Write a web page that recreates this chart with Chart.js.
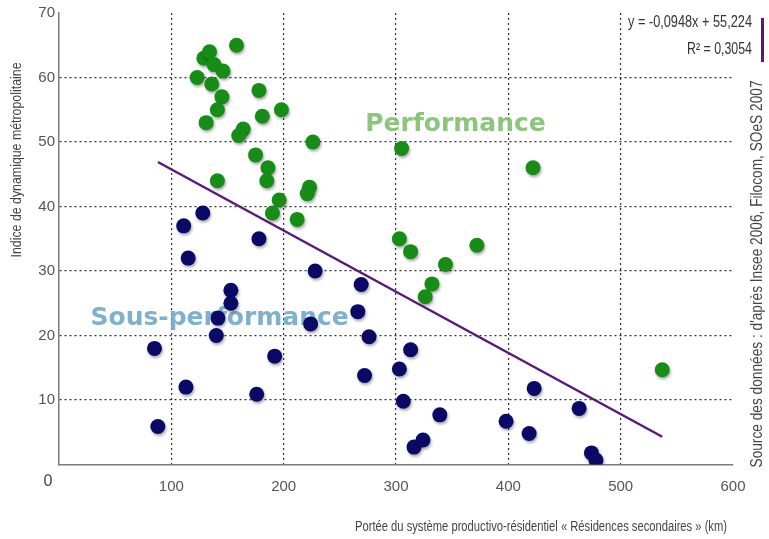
<!DOCTYPE html>
<html lang="fr">
<head>
<meta charset="utf-8">
<title>Indice de dynamique métropolitaine</title>
<script src="https://cdn.jsdelivr.net/npm/chart.js@4.4.1/dist/chart.umd.min.js"></script>
<style>
  html, body { margin: 0; padding: 0; background: #fff; }
</style>
</head>
<body>
<canvas id="chart" width="769" height="539"></canvas>
<script>
// ── Data ──────────────────────────────────────────────────────
// "Performance" (green)
const perfX = [123, 129, 134, 138, 146, 158, 136, 145, 141, 131, 164, 160, 178, 181, 198, 175, 186, 185,
               141, 196, 190, 212, 226, 223, 221, 305, 422, 303, 313, 344, 372, 332, 326, 537];
const perfY = [60, 63, 64, 62, 61, 65, 59, 57, 55, 53, 52, 51, 58, 54, 55, 48, 46, 44,
               44, 41, 39, 38, 50, 43, 42, 49, 46, 35, 33, 31, 34, 28, 26, 14.7];

// "Sous-performance" (navy)
const sousX = [111, 128, 115, 178, 228, 153, 153, 141.5, 140, 85, 192, 113, 176, 88, 224, 269,
               266, 276, 272, 313, 303, 306.5, 339, 316, 324, 398, 423, 418.5, 463, 474, 478];
const sousY = [37, 39, 32, 35, 30, 27, 25, 22.7, 20, 18, 16.8, 12, 10.9, 5.9, 21.8, 27.9,
               23.7, 19.8, 13.8, 17.8, 14.8, 9.8, 7.7, 2.7, 3.8, 6.7, 11.8, 4.8, 8.7, 1.8, 0.7];

// trend line end points (y = -0,0948x + 55,224)
const trendX = [88, 537];
const trendY = [46.9, 4.3];

const xTicks = [0, 100, 200, 300, 400, 500, 600];
const yTicks = [0, 10, 20, 30, 40, 50, 60, 70];

const equationText = ["y = -0,0948x + 55,224", "R\u00B2 = 0,3054"];
const xTitle = "Portée du système productivo-résidentiel « Résidences secondaires » (km)";
const yTitle = "Indice de dynamique métropolitaine";
const sourceText = "Source des données : d'après Insee 2006, Filocom, SOeS 2007";

// ── Styles ────────────────────────────────────────────────────
const narrow = '"Liberation Sans Narrow", "Liberation Sans", sans-serif';
const green = "#178c17";
const navy = "#0a0a66";
const purple = "#5a1878";
const gridColor = "#333";

function toPoints(xs, ys) {
    return xs.map((v, i) => ({ x: v, y: ys[i] }));
}

// draw text squeezed horizontally to a given width (condensed look)
function fitText(ctx, text, x, y, size, width, align, angle) {
    ctx.save();
    ctx.font = size + "px " + narrow;
    const w = ctx.measureText(text).width;
    const k = Math.min(1, width / w);
    ctx.translate(x, y);
    if (angle) ctx.rotate(angle);
    ctx.scale(k, 1);
    ctx.textAlign = align;
    ctx.textBaseline = "middle";
    ctx.fillText(text, 0, 0);
    ctx.restore();
}

// ── Plugins ───────────────────────────────────────────────────
const pointShadow = {
    id: "pointShadow",
    beforeDatasetDraw(chart, args) {
        if (args.meta.type !== "scatter") return;
        const ctx = chart.ctx;
        ctx.save();
        ctx.shadowColor = "rgba(0,0,0,0.35)";
        ctx.shadowOffsetX = 1;
        ctx.shadowOffsetY = 2;
        ctx.shadowBlur = 3;
    },
    afterDatasetDraw(chart, args) {
        if (args.meta.type !== "scatter") return;
        chart.ctx.restore();
    }
};

const annotations = {
    id: "annotations",
    beforeDatasetsDraw(chart) {
        const { ctx, scales: { x, y } } = chart;
        ctx.save();
        ctx.font = 'bold 25px "DejaVu Sans", sans-serif';
        ctx.textAlign = "center";
        ctx.textBaseline = "middle";
        ctx.fillStyle = "rgba(128,192,110,0.9)";
        ctx.fillText("Performance", x.getPixelForValue(353), y.getPixelForValue(52.7));
        ctx.fillStyle = "rgba(112,168,200,0.9)";
        ctx.fillText("Sous-performance", x.getPixelForValue(143), y.getPixelForValue(22.7));
        ctx.restore();
    },
    afterDraw(chart) {
        const { ctx, chartArea } = chart;
        ctx.save();
        ctx.fillStyle = "#444";

        // origin label
        fitText(ctx, "0", chartArea.left - 11, chartArea.bottom + 17, 16, 20, "center");

        // axis titles
        fitText(ctx, xTitle, 727, 527, 14, 372, "right");
        fitText(ctx, yTitle, 17, 160, 15, 195, "center", -Math.PI / 2);

        // source, right side
        fitText(ctx, sourceText, 757, 274, 17, 387, "center", -Math.PI / 2);

        // regression legend
        ctx.fillStyle = "#333";
        fitText(ctx, equationText[0], 752, 23, 16, 124, "right");
        fitText(ctx, equationText[1], 752, 50, 16, 65, "right");
        ctx.fillStyle = purple;
        ctx.fillRect(761, 18, 3, 44);
        ctx.restore();
    }
};

// ── Chart ─────────────────────────────────────────────────────
new Chart(document.getElementById("chart"), {
    data: {
        datasets: [
            {
                type: "line",
                label: "Tendance",
                data: toPoints(trendX, trendY),
                borderColor: purple,
                borderWidth: 2.5,
                pointRadius: 0,
                fill: false,
                order: 0
            },
            {
                type: "scatter",
                label: "Performance",
                data: toPoints(perfX, perfY),
                backgroundColor: green,
                borderWidth: 0,
                pointRadius: 7.5,
                order: 2
            },
            {
                type: "scatter",
                label: "Sous-performance",
                data: toPoints(sousX, sousY),
                backgroundColor: navy,
                borderWidth: 0,
                pointRadius: 7.5,
                order: 1
            }
        ]
    },
    options: {
        responsive: false,
        devicePixelRatio: 1,
        animation: false,
        layout: { padding: { left: 0, right: 36, top: 9, bottom: 0 } },
        plugins: {
            legend: { display: false },
            tooltip: { enabled: false }
        },
        scales: {
            x: {
                type: "linear",
                min: 0,
                max: 600,
                afterFit(scale) { scale.height = 74.5; },
                afterBuildTicks(scale) { scale.ticks = xTicks.map(v => ({ value: v })); },
                ticks: {
                    padding: 13,
                    color: "#555",
                    font: { family: narrow, size: 15 },
                    callback: v => (v === 0 ? "" : v)
                },
                grid: {
                    drawTicks: false,
                    color: c => (c.tick && (c.tick.value === 0 || c.tick.value === 600) ? "transparent" : gridColor),
                    lineWidth: 1.2
                },
                border: { display: true, color: "#7a7a7a", width: 1.5, dash: [2, 3] }
            },
            y: {
                type: "linear",
                min: 0,
                max: 70,
                afterFit(scale) { scale.width = 59; },
                afterBuildTicks(scale) { scale.ticks = yTicks.map(v => ({ value: v })); },
                ticks: {
                    padding: 4,
                    color: "#555",
                    font: { family: narrow, size: 15 },
                    callback: v => (v === 0 ? "" : v)
                },
                grid: {
                    drawTicks: false,
                    color: c => (c.tick && (c.tick.value === 0 || c.tick.value === 70) ? "transparent" : gridColor),
                    lineWidth: 1.2
                },
                border: { display: true, color: "#7a7a7a", width: 1.5, dash: [2, 3] }
            }
        }
    },
    plugins: [pointShadow, annotations]
});
</script>
</body>
</html>
